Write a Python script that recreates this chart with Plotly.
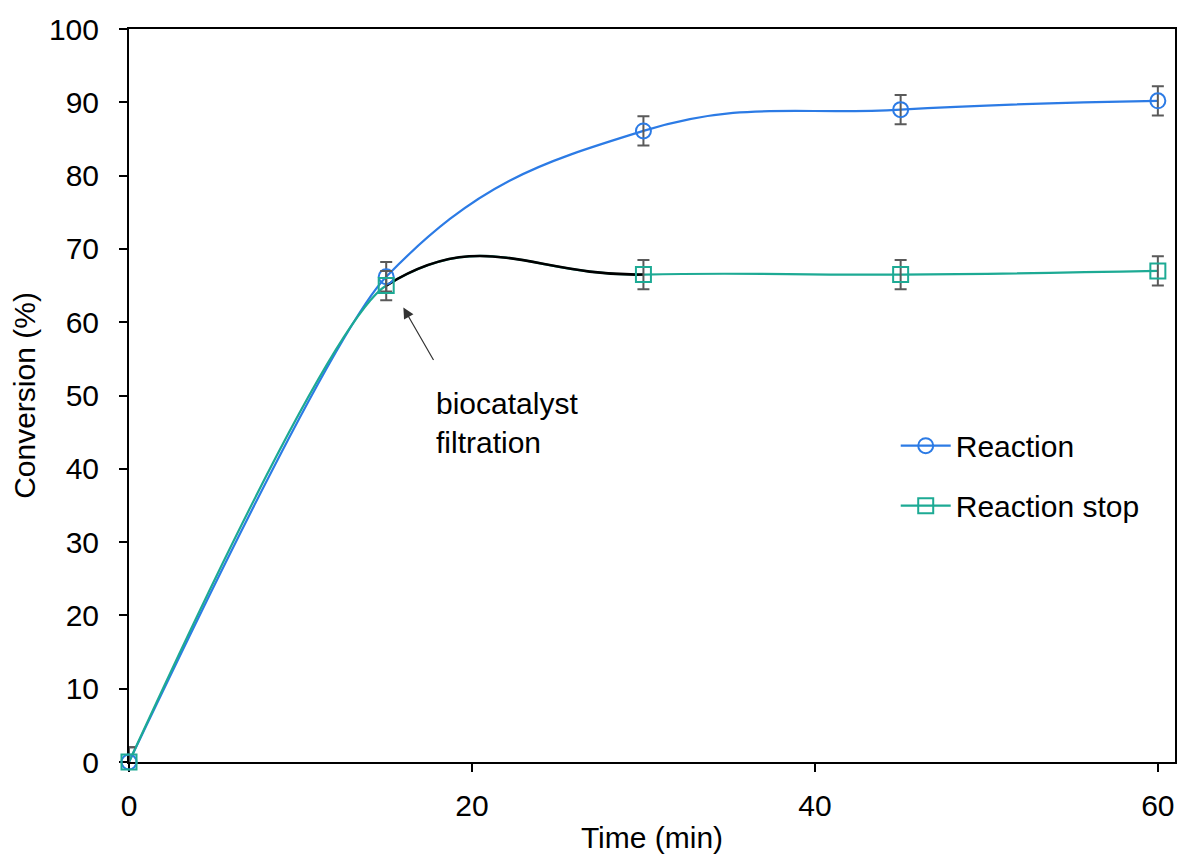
import plotly.graph_objects as go

# Conversion over time, with and without biocatalyst removal at 15 min
time_min = [0, 15, 30, 45, 60]
reaction = [0, 66.2, 86.1, 89.0, 90.2]
reaction_err = [2, 2, 2, 2, 2]
reaction_stop = [0, 65.0, 66.5, 66.5, 67.0]
reaction_stop_err = [2, 2, 2, 2, 2]

x_ticks = [0, 20, 40, 60]
y_ticks = [0, 10, 20, 30, 40, 50, 60, 70, 80, 90, 100]

X_MAX = 61
T_FILTER = 15      # biocatalyst removed here
T_NEXT = 30        # next sampling point after filtration
FONT = "Liberation Sans, Arial, sans-serif"
FS = 30
BLUE = "#2c7be5"
TEAL = "#1daa94"
BAR_GREY = "#5a5a5a"

fig = go.Figure()


def curve(y, axis, color, smoothing, width=2.2):
    """Smoothed line through the samples, drawn on a (clipping) x axis."""
    return go.Scatter(
        x=time_min, y=y, mode="lines", xaxis=axis, yaxis="y",
        line=dict(color=color, width=width, shape="spline", smoothing=smoothing),
        showlegend=False, hoverinfo="skip")


# 0-15 min: gentler smoothing for the initial rise
fig.add_trace(curve(reaction, "x2", BLUE, 0.5))
fig.add_trace(curve(reaction_stop, "x2", TEAL, 0.5))
# 15 min onwards
fig.add_trace(curve(reaction, "x3", BLUE, 1.2))
fig.add_trace(curve(reaction_stop, "x3", TEAL, 1.3))
# filtration interval 15-30 min shown in black
fig.add_trace(curve(reaction_stop, "x4", "black", 1.3, width=2.6))

# markers with error bars on top
fig.add_trace(go.Scatter(
    x=time_min, y=reaction, mode="markers", xaxis="x5", yaxis="y",
    marker=dict(symbol="circle-open", size=15, color=BLUE, line=dict(width=2)),
    error_y=dict(type="data", array=reaction_err, color=BAR_GREY, thickness=2, width=6),
    showlegend=False, cliponaxis=False))
fig.add_trace(go.Scatter(
    x=time_min, y=reaction_stop, mode="markers", xaxis="x5", yaxis="y",
    marker=dict(symbol="square-open", size=15, color=TEAL, line=dict(width=2)),
    error_y=dict(type="data", array=reaction_stop_err, color=BAR_GREY, thickness=2, width=6),
    showlegend=False, cliponaxis=False))

# legend entries
fig.add_trace(go.Scatter(
    x=[None], y=[None], mode="lines+markers", name="Reaction", legendgroup="a",
    line=dict(color=BLUE, width=2.2),
    marker=dict(symbol="circle-open", size=15, color=BLUE, line=dict(width=2))))
fig.add_trace(go.Scatter(
    x=[None], y=[None], mode="lines+markers", name="Reaction stop", legendgroup="b",
    line=dict(color=TEAL, width=2.2),
    marker=dict(symbol="square-open", size=15, color=TEAL, line=dict(width=2))))

# filtration arrow and label
fig.add_annotation(
    x=16.0, y=62.0, ax=31, ay=54, text="", showarrow=True,
    arrowhead=2, arrowsize=1.8, arrowwidth=1.2, arrowcolor="#333333")
fig.add_annotation(
    x=17.8, y=46.2, text="biocatalyst<br>filtration", showarrow=False,
    xanchor="left", yanchor="middle", align="left",
    font=dict(family=FONT, size=FS, color="black"))

axis_common = dict(
    showline=True, linecolor="black", linewidth=2, mirror=True,
    ticks="outside", ticklen=8, tickwidth=1.8, tickcolor="black",
    showgrid=False, zeroline=False,
    tickfont=dict(family=FONT, size=FS, color="black"),
    title_font=dict(family=FONT, size=FS, color="black"),
)


def clip_axis(lo, hi):
    """Hidden x axis whose domain covers exactly [lo, hi] of the main axis."""
    return dict(range=[lo, hi], domain=[lo / X_MAX, hi / X_MAX], anchor="y", visible=False)


fig.update_layout(
    width=1182, height=854,
    margin=dict(l=129, r=5, t=29, b=91),
    paper_bgcolor="white", plot_bgcolor="rgba(0,0,0,0)",
    font=dict(family=FONT, size=FS, color="black"),
    xaxis=dict(range=[0, X_MAX], tickvals=x_ticks, title=dict(text="Time (min)", standoff=6),
               ticklabelstandoff=8, **axis_common),
    yaxis=dict(range=[0, 100], tickvals=y_ticks, title=dict(text="Conversion (%)", standoff=4),
               ticklabelstandoff=14, **axis_common),
    xaxis2=clip_axis(0, T_FILTER),
    xaxis3=clip_axis(T_FILTER, X_MAX),
    xaxis4=clip_axis(T_FILTER, T_NEXT),
    xaxis5=clip_axis(0, X_MAX),
    legend=dict(x=0.733, y=0.467, xanchor="left", yanchor="top", itemwidth=50,
                bgcolor="rgba(0,0,0,0)", tracegroupgap=18,
                font=dict(family=FONT, size=FS, color="black")),
)

fig.write_html("out.html")
